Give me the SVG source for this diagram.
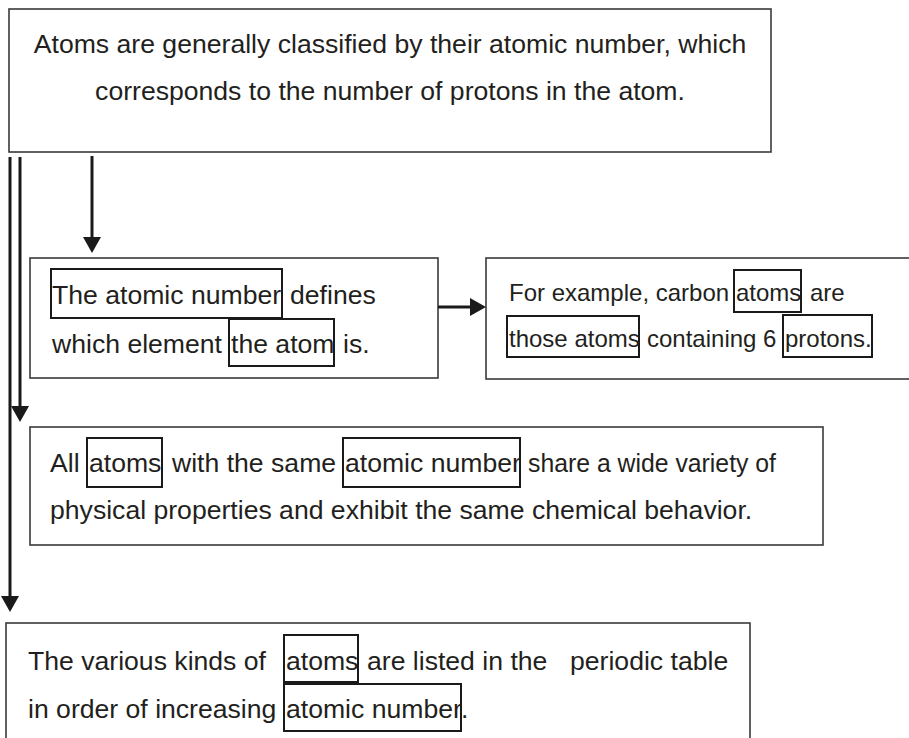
<svg xmlns="http://www.w3.org/2000/svg" width="909" height="738" viewBox="0 0 909 738">
  <style>
    .box { fill: #ffffff; stroke: #3a3a3a; stroke-width: 1.6; }
    .word { fill: none; stroke: #1a1a1a; stroke-width: 2; }
    .t { font-family: "Liberation Sans", Arial, sans-serif; font-size: 26.6px; fill: #231f20; }
    .s { font-family: "Liberation Sans", Arial, sans-serif; font-size: 24px; fill: #231f20; }
    .conn { stroke: #1a1a1a; stroke-width: 3; fill: none; }
  </style>
  <defs>
    <marker id="ah" viewBox="0 0 16 18" refX="8" refY="9" markerWidth="16" markerHeight="18" markerUnits="userSpaceOnUse" orient="auto">
      <path d="M0,0 L16,9 L0,18 z" fill="#1a1a1a"/>
    </marker>
  </defs>
  <rect width="909" height="738" fill="#ffffff"/>

  <g id="node-top">
    <rect class="box" x="9" y="9" width="762" height="143"/>
    <text class="t" x="390" y="53" text-anchor="middle">Atoms are generally classified by their atomic number, which</text>
    <text class="t" x="390" y="100" text-anchor="middle">corresponds to the number of protons in the atom.</text>
  </g>

  <g id="node-defines">
    <rect class="box" x="30" y="258" width="408" height="120"/>
    <rect class="word" x="51" y="269" width="231" height="49"/>
    <rect class="word" x="229" y="319" width="105" height="47"/>
    <text class="t" x="52" y="304">The atomic number</text>
    <text class="t" x="290" y="304">defines</text>
    <text class="t" x="52" y="353">which element</text>
    <text class="t" x="231" y="353">the atom</text>
    <text class="t" x="343" y="353">is.</text>
  </g>

  <g id="node-example">
    <rect class="box" x="486" y="258" width="430" height="121"/>
    <rect class="word" x="734" y="270" width="67" height="42"/>
    <rect class="word" x="507" y="316" width="132" height="41"/>
    <rect class="word" x="783" y="315" width="89" height="42"/>
    <text class="s" x="509" y="301">For example, carbon</text>
    <text class="s" x="736" y="301">atoms</text>
    <text class="s" x="810" y="301">are</text>
    <text class="s" x="509" y="347">those atoms</text>
    <text class="s" x="647" y="347">containing 6</text>
    <text class="s" x="785" y="347">protons.</text>
  </g>

  <g id="node-same">
    <rect class="box" x="30" y="427" width="793" height="118"/>
    <rect class="word" x="87" y="438" width="75" height="49"/>
    <rect class="word" x="343" y="438" width="177" height="49"/>
    <text class="t" x="50" y="472">All</text>
    <text class="t" x="89" y="472">atoms</text>
    <text class="t" x="172" y="472">with the same</text>
    <text class="t" x="345" y="472">atomic number</text>
    <text class="t" x="528" y="472" textLength="248" lengthAdjust="spacingAndGlyphs">share a wide variety of</text>
    <text class="t" x="50" y="519">physical properties and exhibit the same chemical behavior.</text>
  </g>

  <g id="node-periodic">
    <rect class="box" x="6" y="623" width="744" height="125"/>
    <rect class="word" x="284" y="635" width="74" height="47"/>
    <rect class="word" x="284" y="684" width="177" height="47"/>
    <text class="t" x="28" y="670">The various kinds of</text>
    <text class="t" x="286" y="670">atoms</text>
    <text class="t" x="367" y="670">are listed in the</text>
    <text class="t" x="570" y="670">periodic table</text>
    <text class="t" x="28" y="718">in order of increasing</text>
    <text class="t" x="286" y="718">atomic number</text>
    <text class="t" x="461" y="718">.</text>
  </g>

  <g id="connectors">
    <line class="conn" x1="92" y1="156" x2="92" y2="245" marker-end="url(#ah)"/>
    <line class="conn" x1="20" y1="157" x2="20" y2="414" marker-end="url(#ah)"/>
    <line class="conn" x1="10" y1="157" x2="10" y2="604" marker-end="url(#ah)"/>
    <line class="conn" x1="438" y1="307" x2="478" y2="307" marker-end="url(#ah)"/>
  </g>
</svg>
